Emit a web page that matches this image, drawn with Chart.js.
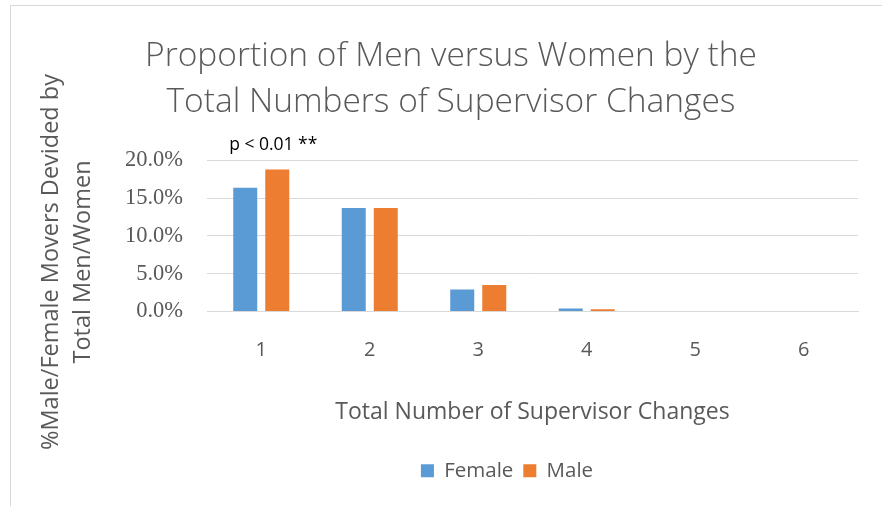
<!DOCTYPE html>
<html>
<head>
<meta charset="utf-8">
<script src="https://cdn.jsdelivr.net/npm/chart.js@4.4.0/dist/chart.umd.min.js"></script>
<style>
  body { margin: 0; background: #fff; }
</style>
</head>
<body>
<canvas id="myChart" width="882" height="506"></canvas>
<script>
// data (percent)
var categories = ['1', '2', '3', '4', '5', '6'];
var femaleValues = [16.4, 13.7, 2.9, 0.4, 0.05, 0];
var maleValues = [18.8, 13.7, 3.5, 0.3, 0.05, 0];
var yTickValues = [0, 5, 10, 15, 20];
var titleLines = ['Proportion of Men versus Women by the', 'Total Numbers of Supervisor Changes'];
var yTitleLines = ['%Male/Female Movers Devided by', 'Total Men/Women'];
var xTitle = 'Total Number of Supervisor Changes';
var noteText = 'p < 0.01 **';

var grey = '#595959';

// border, rotated y title, significance note
var extras = {
    id: 'extras',
    afterLayout: function(chart) {
        chart.legend.left += 68;
        chart.legend.right += 68;
        chart.titleBlock.left += 12;
        chart.titleBlock.right += 12;
    },
    beforeDraw: function(chart) {
        var ctx = chart.ctx;
        ctx.save();
        ctx.strokeStyle = '#d9d9d9';
        ctx.lineWidth = 1;
        ctx.strokeRect(10.5, 5.5, 900, 600);
        ctx.restore();
    },
    afterDraw: function(chart) {
        var ctx = chart.ctx;
        var y = chart.scales.y;
        ctx.save();
        ctx.fillStyle = grey;
        ctx.font = '23.5px "Open Sans"';
        ctx.textAlign = 'center';
        ctx.textBaseline = 'middle';
        ctx.translate(51, 262);
        ctx.rotate(-Math.PI / 2);
        ctx.fillText(yTitleLines[0], 0, 0);
        ctx.fillText(yTitleLines[1], 0, 32);
        ctx.restore();

        ctx.save();
        ctx.fillStyle = '#000';
        ctx.font = '17.5px "Open Sans"';
        ctx.textAlign = 'center';
        ctx.textBaseline = 'middle';
        ctx.fillText(noteText, chart.scales.x.getPixelForValue(0) + 12, y.getPixelForValue(20) - 15);
        ctx.restore();
    }
};

var ctx = document.getElementById('myChart').getContext('2d');
var myChart = new Chart(ctx, {
    type: 'bar',
    data: {
        labels: categories,
        datasets: [{
            label: 'Female',
            data: femaleValues,
            backgroundColor: '#5B9BD5'
        }, {
            label: 'Male',
            data: maleValues,
            backgroundColor: '#ED7D31'
        }]
    },
    options: {
        responsive: false,
        animation: false,
        categoryPercentage: 0.59,
        barPercentage: 0.75,
        layout: {
            padding: { left: 20, right: 24, top: 0, bottom: 15 }
        },
        plugins: {
            title: {
                display: true,
                text: titleLines,
                color: grey,
                font: { family: 'Open Sans', weight: '300', size: 33.5, lineHeight: 1.38 },
                padding: { top: 33, bottom: 35 }
            },
            legend: {
                position: 'bottom',
                labels: {
                    color: grey,
                    font: { family: 'Open Sans', size: 20.5 },
                    boxWidth: 13,
                    boxHeight: 13,
                    padding: 10
                }
            },
            tooltip: { enabled: false }
        },
        scales: {
            x: {
                grid: { display: false },
                border: { color: '#d9d9d9', width: 1 },
                ticks: {
                    color: grey,
                    font: { family: 'Open Sans', size: 20 },
                    padding: 19
                },
                title: {
                    display: true,
                    text: xTitle,
                    color: grey,
                    font: { family: 'Open Sans', size: 23 },
                    padding: { top: 0, bottom: 24 }
                },
                afterFit: function(scale) { scale.height = 139; }
            },
            y: {
                min: 0,
                max: 20,
                afterBuildTicks: function(scale) {
                    scale.ticks = yTickValues.map(function(v) { return { value: v }; });
                },
                grid: { color: '#d9d9d9', lineWidth: 1, drawTicks: false },
                border: { display: false },
                ticks: {
                    color: grey,
                    font: { family: 'Liberation Serif', size: 22.5 },
                    padding: 24,
                    callback: function(v) { return v.toFixed(1) + '%'; }
                },
                afterFit: function(scale) { scale.width = 187; }
            }
        }
    },
    plugins: [extras]
});
</script>
</body>
</html>
